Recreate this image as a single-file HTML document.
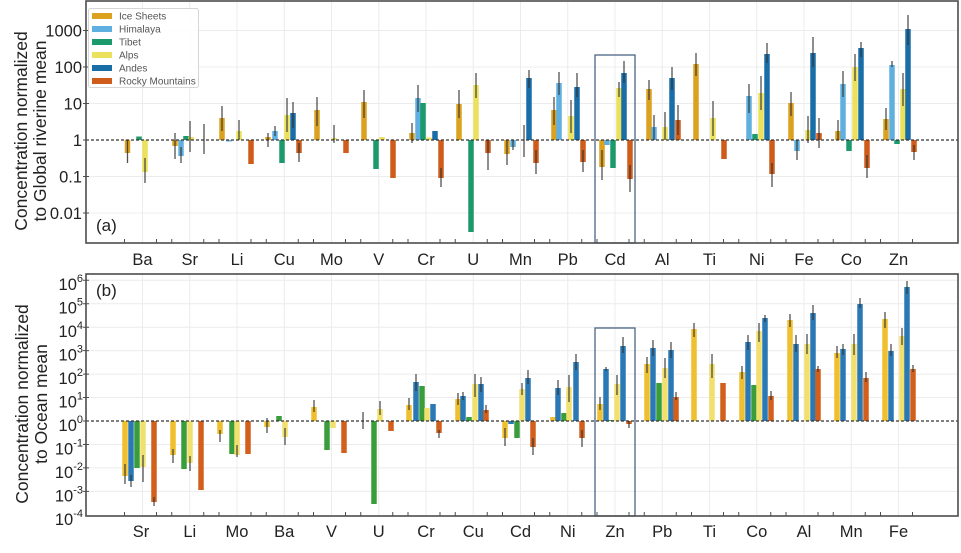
<!DOCTYPE html>
<html><head><meta charset="utf-8"><style>
html,body{margin:0;padding:0;background:#fff;}
svg{display:block;font-family:"Liberation Sans",Arial,sans-serif;}
.I{fill:#dba11f}.H{fill:#5fb0e0}.T{fill:#1c9a6c}.A{fill:#ece15c}.D{fill:#1a6ea8}.R{fill:#cf5c1a}
.bI{fill:#efbf2e}.bB{fill:#2a79b5}.bG{fill:#3a9d3c}.bA{fill:#f2e06e}.bR{fill:#d2601c}
.tk{font-size:16.5px;fill:#222}
.lg{font-size:10px;fill:#555}
</style></head><body>
<svg width="961" height="553" viewBox="0 0 961 553" xmlns="http://www.w3.org/2000/svg">
<rect width="961" height="553" fill="#fff"/>
<!-- gridlines -->
<g stroke="#ececec" stroke-width="1">
<path d="M142.5 1V243M189.75 1V243M237 1V243M284.25 1V243M331.5 1V243M378.75 1V243M426 1V243M473.25 1V243M520.5 1V243M567.75 1V243M615 1V243M662.25 1V243M709.5 1V243M756.75 1V243M804 1V243M851.25 1V243M898.5 1V243"/>
<path d="M86 30.5H958M86 67H958M86 103.5H958M86 176.5H958M86 213H958"/>
<path d="M142.5 274V516M189.75 274V516M237 274V516M284.25 274V516M331.5 274V516M378.75 274V516M426 274V516M473.25 274V516M520.5 274V516M567.75 274V516M615 274V516M662.25 274V516M709.5 274V516M756.75 274V516M804 274V516M851.25 274V516M898.5 274V516"/>
<path d="M86 280.3H958M86 303.75H958M86 327.2H958M86 350.65H958M86 374.1H958M86 397.55H958M86 444.45H958M86 467.9H958M86 491.35H958"/>
</g>

<!-- Panel (a) bars -->
<g>
<rect class="I" x="124.75" y="140" width="5.5" height="13"/>
<rect class="T" x="136.25" y="136.5" width="5.5" height="3.5"/>
<rect class="A" x="142.25" y="140" width="5.5" height="32"/>
<rect class="I" x="172.25" y="140" width="5.5" height="6"/>
<rect class="H" x="178.25" y="140" width="5.5" height="16"/>
<rect class="T" x="183.25" y="136" width="5.5" height="4"/>
<rect class="A" x="188.25" y="137" width="5.5" height="3"/>
<rect class="I" x="219.25" y="118" width="5.5" height="22"/>
<rect class="H" x="226.25" y="140" width="5.5" height="1.5"/>
<rect class="A" x="236.25" y="131" width="5.5" height="9"/>
<rect class="R" x="248.25" y="140" width="5.5" height="24"/>
<rect class="I" x="265.25" y="137" width="5.5" height="3"/>
<rect class="H" x="272.25" y="131" width="5.5" height="9"/>
<rect class="T" x="279.25" y="140" width="5.5" height="23"/>
<rect class="A" x="284.25" y="115" width="5.5" height="25"/>
<rect class="D" x="290.25" y="113" width="5.5" height="27"/>
<rect class="R" x="296.25" y="140" width="5.5" height="13"/>
<rect class="I" x="314.25" y="110" width="5.5" height="30"/>
<rect class="A" x="331.25" y="138" width="5.5" height="2"/>
<rect class="R" x="343.25" y="140" width="5.5" height="13"/>
<rect class="I" x="361.25" y="102" width="5.5" height="38"/>
<rect class="T" x="373.25" y="140" width="5.5" height="29"/>
<rect class="A" x="379.25" y="137" width="5.5" height="3"/>
<rect class="R" x="390.25" y="140" width="5.5" height="38"/>
<rect class="I" x="409.25" y="133" width="5.5" height="7"/>
<rect class="H" x="415.25" y="98" width="5.5" height="42"/>
<rect class="T" x="420.25" y="103" width="5.5" height="37"/>
<rect class="A" x="426.25" y="137.5" width="5.5" height="2.5"/>
<rect class="D" x="432.25" y="131" width="5.5" height="9"/>
<rect class="R" x="438.25" y="140" width="5.5" height="38"/>
<rect class="I" x="456.25" y="104" width="5.5" height="36"/>
<rect class="T" x="468.25" y="140" width="5.5" height="92"/>
<rect class="A" x="473.25" y="85" width="5.5" height="55"/>
<rect class="R" x="485.25" y="140" width="5.5" height="13"/>
<rect class="I" x="504.25" y="140" width="5.5" height="14"/>
<rect class="H" x="510.25" y="140" width="5.5" height="7"/>
<rect class="D" x="526.25" y="78" width="5.5" height="62"/>
<rect class="R" x="533.25" y="140" width="5.5" height="23"/>
<rect class="I" x="551.25" y="110" width="5.5" height="30"/>
<rect class="H" x="556.25" y="83" width="5.5" height="57"/>
<rect class="A" x="568.25" y="116" width="5.5" height="24"/>
<rect class="D" x="574.25" y="87" width="5.5" height="53"/>
<rect class="R" x="580.25" y="140" width="5.5" height="22"/>
<rect class="I" x="599.25" y="140" width="5.5" height="27"/>
<rect class="H" x="604.25" y="140" width="5.5" height="5"/>
<rect class="T" x="610.25" y="140" width="5.5" height="28"/>
<rect class="A" x="616.25" y="88" width="5.5" height="52"/>
<rect class="D" x="621.25" y="73" width="5.5" height="67"/>
<rect class="R" x="627.25" y="140" width="5.5" height="39"/>
<rect class="I" x="646.25" y="89" width="5.5" height="51"/>
<rect class="H" x="651.25" y="127" width="5.5" height="13"/>
<rect class="A" x="662.25" y="127" width="5.5" height="13"/>
<rect class="D" x="669.25" y="78" width="5.5" height="62"/>
<rect class="R" x="675.25" y="120" width="5.5" height="20"/>
<rect class="I" x="693.25" y="64" width="5.5" height="76"/>
<rect class="A" x="710.25" y="118" width="5.5" height="22"/>
<rect class="R" x="721.25" y="140" width="5.5" height="19"/>
<rect class="H" x="746.25" y="96" width="5.5" height="44"/>
<rect class="T" x="752.25" y="134" width="5.5" height="6"/>
<rect class="A" x="758.25" y="93" width="5.5" height="47"/>
<rect class="D" x="764.25" y="54" width="5.5" height="86"/>
<rect class="R" x="769.25" y="140" width="5.5" height="34"/>
<rect class="I" x="788.25" y="103" width="5.5" height="37"/>
<rect class="H" x="794.25" y="140" width="5.5" height="11"/>
<rect class="A" x="805.25" y="130" width="5.5" height="10"/>
<rect class="D" x="810.25" y="53" width="5.5" height="87"/>
<rect class="R" x="816.25" y="133" width="5.5" height="7"/>
<rect class="I" x="835.25" y="131" width="5.5" height="9"/>
<rect class="H" x="840.25" y="84" width="5.5" height="56"/>
<rect class="T" x="846.25" y="140" width="5.5" height="11"/>
<rect class="A" x="852.25" y="67" width="5.5" height="73"/>
<rect class="D" x="858.25" y="48" width="5.5" height="92"/>
<rect class="R" x="864.25" y="140" width="5.5" height="28"/>
<rect class="I" x="883.25" y="119" width="5.5" height="21"/>
<rect class="H" x="889.25" y="65" width="5.5" height="75"/>
<rect class="T" x="894.25" y="140" width="5.5" height="4"/>
<rect class="A" x="900.25" y="89" width="5.5" height="51"/>
<rect class="D" x="905.25" y="29" width="5.5" height="111"/>
<rect class="R" x="911.25" y="140" width="5.5" height="12"/>
</g>
<path stroke="#333" stroke-opacity="0.85" stroke-width="1.3" fill="none" d="M127.5 140V163M145 158V183M175 133V159M181 147V163M190 121V152M204 124V154M222 106V131M239 120V140M268 133V147M275 126V136M287 98V132M293 102V128M299 143V162M317 97V126M334 125V143M364 90V118M412 123V143M418 85V112M441 168V187M459 90V118M476 73V98M488 140V170M507 140V165M513 140V150M524 125V157M529 70V88M536 150V174M554 97V125M559 72V95M571 100V133M577 73V97M583 150V172M602 150V180M619 82V97M624 61V83M630 165V192M649 80V100M654 115V140M665 112V140M672 67V90M678 105V135M696 53V76M713 101V136M749 84V113M761 76V110M767 43V63M772 163V187M791 92V116M797 140V160M808 116V143M813 37V67M819 118V148M838 120V140M843 71V97M855 54V81M861 42V57M867 155V178M886 108V130M892 61V67M903 73V106M908 15V45M914 145V160"/>

<!-- Panel (b) bars -->
<g>
<rect class="bI" x="122.25" y="421" width="5.5" height="55"/>
<rect class="bB" x="128.25" y="421" width="5.5" height="60"/>
<rect class="bG" x="134.25" y="421" width="5.5" height="47"/>
<rect class="bA" x="140.25" y="421" width="5.5" height="46"/>
<rect class="bR" x="151.25" y="421" width="5.5" height="81"/>
<rect class="bI" x="170.25" y="421" width="5.5" height="34"/>
<rect class="bG" x="181.25" y="421" width="5.5" height="48"/>
<rect class="bA" x="187.25" y="421" width="5.5" height="42"/>
<rect class="bR" x="198.25" y="421" width="5.5" height="69"/>
<rect class="bI" x="217.25" y="421" width="5.5" height="13"/>
<rect class="bG" x="229.25" y="421" width="5.5" height="33"/>
<rect class="bA" x="234.25" y="421" width="5.5" height="34"/>
<rect class="bR" x="245.25" y="421" width="5.5" height="33"/>
<rect class="bI" x="264.25" y="421" width="5.5" height="6"/>
<rect class="bG" x="276.25" y="416" width="5.5" height="5"/>
<rect class="bA" x="282.25" y="421" width="5.5" height="16"/>
<rect class="bI" x="311.25" y="407" width="5.5" height="14"/>
<rect class="bG" x="324.25" y="421" width="5.5" height="29"/>
<rect class="bA" x="330.25" y="421" width="5.5" height="7"/>
<rect class="bR" x="341.25" y="421" width="5.5" height="32"/>
<rect class="bG" x="371.25" y="421" width="5.5" height="83"/>
<rect class="bA" x="377.25" y="409" width="5.5" height="12"/>
<rect class="bR" x="388.25" y="421" width="5.5" height="10"/>
<rect class="bI" x="406.25" y="405" width="5.5" height="16"/>
<rect class="bB" x="413.25" y="382" width="5.5" height="39"/>
<rect class="bG" x="419.25" y="386" width="5.5" height="35"/>
<rect class="bA" x="424.25" y="408" width="5.5" height="13"/>
<rect class="bB" x="430.25" y="404" width="5.5" height="17"/>
<rect class="bR" x="436.25" y="421" width="5.5" height="12"/>
<rect class="bI" x="455.25" y="399" width="5.5" height="22"/>
<rect class="bB" x="460.25" y="396" width="5.5" height="25"/>
<rect class="bG" x="466.25" y="417" width="5.5" height="4"/>
<rect class="bA" x="472.25" y="384" width="5.5" height="37"/>
<rect class="bB" x="478.25" y="384" width="5.5" height="37"/>
<rect class="bR" x="483.25" y="410" width="5.5" height="11"/>
<rect class="bI" x="502.25" y="421" width="5.5" height="17"/>
<rect class="bB" x="508.25" y="421" width="5.5" height="3"/>
<rect class="bG" x="514.25" y="421" width="5.5" height="17"/>
<rect class="bA" x="519.25" y="389" width="5.5" height="32"/>
<rect class="bB" x="525.25" y="378" width="5.5" height="43"/>
<rect class="bR" x="530.25" y="421" width="5.5" height="26"/>
<rect class="bI" x="550.25" y="417" width="5.5" height="4"/>
<rect class="bB" x="555.25" y="388" width="5.5" height="33"/>
<rect class="bG" x="561.25" y="413" width="5.5" height="8"/>
<rect class="bA" x="566.25" y="387" width="5.5" height="34"/>
<rect class="bB" x="573.25" y="362" width="5.5" height="59"/>
<rect class="bR" x="579.25" y="421" width="5.5" height="17"/>
<rect class="bI" x="597.25" y="404" width="5.5" height="17"/>
<rect class="bB" x="603.25" y="369" width="5.5" height="52"/>
<rect class="bG" x="608.25" y="420" width="5.5" height="1"/>
<rect class="bA" x="614.25" y="384" width="5.5" height="37"/>
<rect class="bB" x="620.25" y="346" width="5.5" height="75"/>
<rect class="bR" x="626.25" y="421" width="5.5" height="3"/>
<rect class="bI" x="644.25" y="364" width="5.5" height="57"/>
<rect class="bB" x="650.25" y="348" width="5.5" height="73"/>
<rect class="bG" x="656.25" y="383" width="5.5" height="38"/>
<rect class="bA" x="662.25" y="368" width="5.5" height="53"/>
<rect class="bB" x="668.25" y="350" width="5.5" height="71"/>
<rect class="bR" x="673.25" y="397" width="5.5" height="24"/>
<rect class="bI" x="691.25" y="329" width="5.5" height="92"/>
<rect class="bA" x="709.25" y="364" width="5.5" height="57"/>
<rect class="bR" x="720.25" y="383" width="5.5" height="38"/>
<rect class="bI" x="739.25" y="372" width="5.5" height="49"/>
<rect class="bB" x="745.25" y="342" width="5.5" height="79"/>
<rect class="bG" x="751.25" y="385" width="5.5" height="36"/>
<rect class="bA" x="756.25" y="331" width="5.5" height="90"/>
<rect class="bB" x="762.25" y="318" width="5.5" height="103"/>
<rect class="bR" x="768.25" y="396" width="5.5" height="25"/>
<rect class="bI" x="787.25" y="320" width="5.5" height="101"/>
<rect class="bB" x="793.25" y="344" width="5.5" height="77"/>
<rect class="bA" x="804.25" y="344" width="5.5" height="77"/>
<rect class="bB" x="810.25" y="313" width="5.5" height="108"/>
<rect class="bR" x="815.25" y="369" width="5.5" height="52"/>
<rect class="bI" x="834.25" y="353" width="5.5" height="68"/>
<rect class="bB" x="840.25" y="349" width="5.5" height="72"/>
<rect class="bA" x="851.25" y="344" width="5.5" height="77"/>
<rect class="bB" x="857.25" y="304" width="5.5" height="117"/>
<rect class="bR" x="863.25" y="378" width="5.5" height="43"/>
<rect class="bI" x="882.25" y="319" width="5.5" height="102"/>
<rect class="bB" x="888.25" y="351" width="5.5" height="70"/>
<rect class="bA" x="899.25" y="336" width="5.5" height="85"/>
<rect class="bB" x="904.25" y="287" width="5.5" height="134"/>
<rect class="bR" x="910.25" y="369" width="5.5" height="52"/>
</g>
<path stroke="#333" stroke-opacity="0.85" stroke-width="1.3" fill="none" d="M125 464V484M131 475V487M143 455V482M154 497V506M173 449V463M190 456V471M220 430V442M237 445V457M267 418V433M285 428V445M314 400V412M363 412V429M380 401V415M409 398V410M416 374V391M439 430V438M458 393V405M463 392V400M475 374V397M481 377V392M486 405V413M505 428V446M522 383V395M528 370V384M533 438V455M558 380V395M569 375V402M576 354V370M582 430V447M600 397V410M606 367V371M617 375V395M623 337V353M629 421V428M647 357V373M653 340V356M665 358V378M671 342V358M676 392V400M694 323V337M712 354V378M742 366V379M748 335V350M759 323V342M765 315V322M771 391V400M790 314V327M796 335V352M807 334V354M813 305V320M818 366V372M837 346V358M843 344V355M854 334V355M860 298V308M866 372V382M885 312V328M891 344V356M902 328V345M907 281V294M913 365V372"/>

<!-- dashed reference lines -->
<path d="M86 140H958M86 421H958" stroke="#333" stroke-width="1.2" stroke-dasharray="3,2" fill="none"/>

<!-- highlight boxes -->
<rect x="595" y="55" width="40" height="188" fill="none" stroke="#4b6584" stroke-width="1.3"/>
<rect x="595" y="328" width="40" height="188" fill="none" stroke="#4b6584" stroke-width="1.3"/>

<!-- frames -->
<rect x="86" y="1" width="872" height="242" fill="none" stroke="#4d4d4d" stroke-width="1.6"/>
<rect x="86" y="274" width="872" height="242" fill="none" stroke="#4d4d4d" stroke-width="1.6"/>

<!-- y ticks -->
<path stroke="#4d4d4d" stroke-width="1" d="M83 30.5H89M83 67H89M83 103.5H89M83 140H89M83 176.5H89M83 213H89M83 280.3H89M83 303.75H89M83 327.2H89M83 350.65H89M83 374.1H89M83 397.55H89M83 421H89M83 444.45H89M83 467.9H89M83 491.35H89"/>
<!-- x ticks -->
<path stroke="#4d4d4d" stroke-width="1" d="M124.5 243V239M156.5 243V239M171.75 243V239M203.75 243V239M219 243V239M251 243V239M266.25 243V239M298.25 243V239M313.5 243V239M345.5 243V239M360.75 243V239M392.75 243V239M408 243V239M440 243V239M455.25 243V239M487.25 243V239M502.5 243V239M534.5 243V239M549.75 243V239M581.75 243V239M597 243V239M629 243V239M644.25 243V239M676.25 243V239M691.5 243V239M723.5 243V239M738.75 243V239M770.75 243V239M786 243V239M818 243V239M833.25 243V239M865.25 243V239M880.5 243V239M912.5 243V239
M124.5 516V512M156.5 516V512M171.75 516V512M203.75 516V512M219 516V512M251 516V512M266.25 516V512M298.25 516V512M313.5 516V512M345.5 516V512M360.75 516V512M392.75 516V512M408 516V512M440 516V512M455.25 516V512M487.25 516V512M502.5 516V512M534.5 516V512M549.75 516V512M581.75 516V512M597 516V512M629 516V512M644.25 516V512M676.25 516V512M691.5 516V512M723.5 516V512M738.75 516V512M770.75 516V512M786 516V512M818 516V512M833.25 516V512M865.25 516V512M880.5 516V512M912.5 516V512"/>

<!-- y tick labels (a) -->
<g class="tk" text-anchor="end">
<text x="82" y="36.5">1000</text>
<text x="82" y="73">100</text>
<text x="82" y="109.5">10</text>
<text x="82" y="146">1</text>
<text x="82" y="182.5">0.1</text>
<text x="82" y="219">0.01</text>
</g>
<!-- y tick labels (b) -->
<g class="tk" text-anchor="end">
<text x="83" y="290">10<tspan dy="-8" font-size="11">6</tspan></text>
<text x="83" y="313.5">10<tspan dy="-8" font-size="11">5</tspan></text>
<text x="83" y="337">10<tspan dy="-8" font-size="11">4</tspan></text>
<text x="83" y="360.5">10<tspan dy="-8" font-size="11">3</tspan></text>
<text x="83" y="384">10<tspan dy="-8" font-size="11">2</tspan></text>
<text x="83" y="407.5">10<tspan dy="-8" font-size="11">1</tspan></text>
<text x="83" y="431">10<tspan dy="-8" font-size="11">0</tspan></text>
<text x="83" y="454.5">10<tspan dy="-8" font-size="11">-1</tspan></text>
<text x="83" y="478">10<tspan dy="-8" font-size="11">-2</tspan></text>
<text x="83" y="501.5">10<tspan dy="-8" font-size="11">-3</tspan></text>
<text x="83" y="525">10<tspan dy="-8" font-size="11">-4</tspan></text>
</g>

<!-- x labels (a) -->
<g class="tk" text-anchor="middle" font-size="16.5">
<text x="142.5" y="265">Ba</text>
<text x="189.75" y="265">Sr</text>
<text x="237" y="265">Li</text>
<text x="284.25" y="265">Cu</text>
<text x="331.5" y="265">Mo</text>
<text x="378.75" y="265">V</text>
<text x="426" y="265">Cr</text>
<text x="473.25" y="265">U</text>
<text x="520.5" y="265">Mn</text>
<text x="567.75" y="265">Pb</text>
<text x="615" y="265">Cd</text>
<text x="662.25" y="265">Al</text>
<text x="709.5" y="265">Ti</text>
<text x="756.75" y="265">Ni</text>
<text x="804" y="265">Fe</text>
<text x="851.25" y="265">Co</text>
<text x="898.5" y="265">Zn</text>
</g>
<!-- x labels (b) -->
<g class="tk" text-anchor="middle">
<text x="141" y="537">Sr</text>
<text x="189.75" y="537">Li</text>
<text x="237" y="537">Mo</text>
<text x="284.25" y="537">Ba</text>
<text x="331.5" y="537">V</text>
<text x="378.75" y="537">U</text>
<text x="426" y="537">Cr</text>
<text x="473.25" y="537">Cu</text>
<text x="520.5" y="537">Cd</text>
<text x="567.75" y="537">Ni</text>
<text x="615" y="537">Zn</text>
<text x="662.25" y="537">Pb</text>
<text x="709.5" y="537">Ti</text>
<text x="756.75" y="537">Co</text>
<text x="804" y="537">Al</text>
<text x="851.25" y="537">Mn</text>
<text x="898.5" y="537">Fe</text>
</g>

<!-- panel letters -->
<text x="96" y="231" font-size="17" fill="#222">(a)</text>
<text x="96" y="296" font-size="17" fill="#222">(b)</text>

<!-- y axis titles -->
<g font-size="17.5" fill="#222" text-anchor="middle">
<text transform="translate(27,131) rotate(-90)">Concentration normalized</text>
<text transform="translate(46,131) rotate(-90)">to Global riverine mean</text>
<text transform="translate(28,404) rotate(-90)">Concentration normalized</text>
<text transform="translate(47,404) rotate(-90)">to Ocean mean</text>
</g>

<!-- legend -->
<rect x="88.5" y="8.5" width="110" height="79" rx="2" fill="#fff" fill-opacity="0.9" stroke="#d6d6d6" stroke-width="1"/>
<rect x="92" y="13" width="20" height="6" class="I"/>
<rect x="92" y="26" width="20" height="6" class="H"/>
<rect x="92" y="39" width="20" height="6" class="T"/>
<rect x="92" y="52" width="20" height="6" class="A"/>
<rect x="92" y="65" width="20" height="6" class="D"/>
<rect x="92" y="78" width="20" height="6" class="R"/>
<g class="lg">
<text x="119" y="19.5">Ice Sheets</text>
<text x="119" y="32.5">Himalaya</text>
<text x="119" y="45.5">Tibet</text>
<text x="119" y="58.5">Alps</text>
<text x="119" y="71.5">Andes</text>
<text x="119" y="84.5">Rocky Mountains</text>
</g>
</svg>
</body></html>
